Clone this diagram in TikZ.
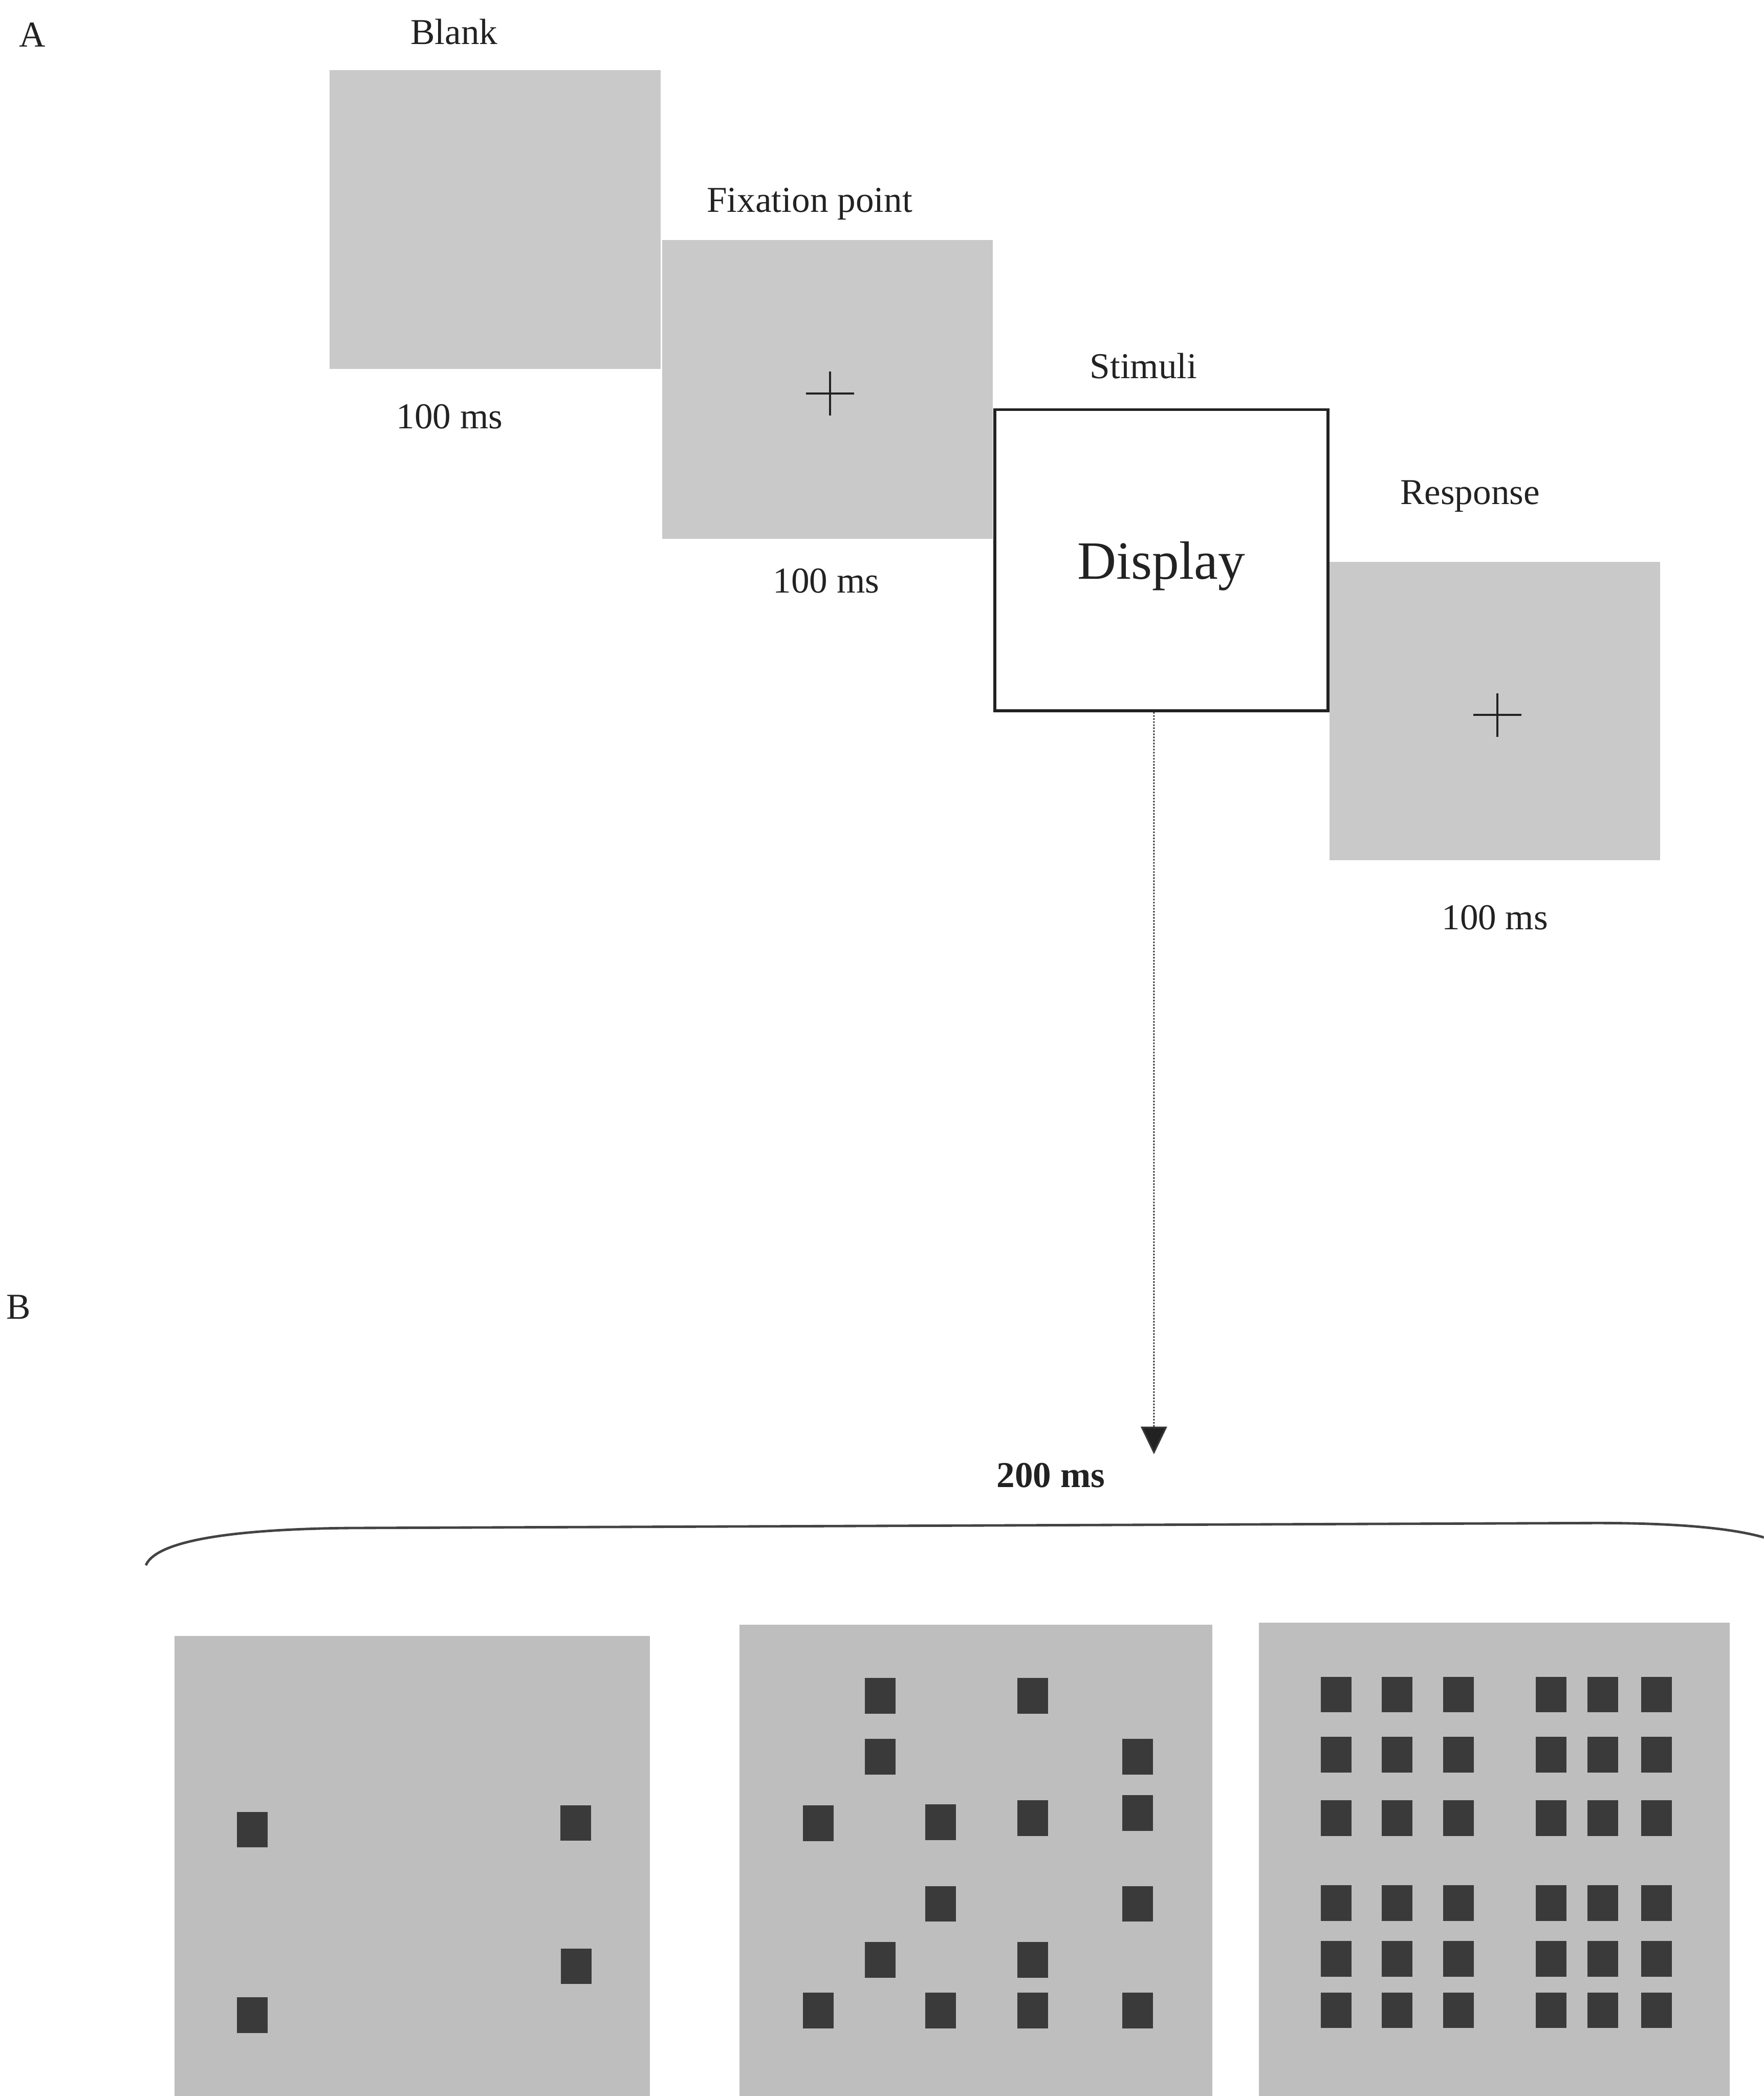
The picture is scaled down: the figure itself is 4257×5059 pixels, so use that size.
\documentclass[tikz,border=0pt]{standalone}
\usepackage{fontspec}
\setmainfont{Liberation Serif}
\usetikzlibrary{positioning,arrows.meta,calc}
\definecolor{cScr}{HTML}{C9C9C9}
\definecolor{cPan}{HTML}{BEBEBE}
\definecolor{cSq}{HTML}{3A3A3A}
\definecolor{cInk}{HTML}{222222}

\begin{document}
\begin{tikzpicture}[x=0.01cm,y=-0.01cm,>=Stealth,
  font=\fontsize{25}{30}\selectfont,text=cInk,
  screen/.style={fill=cScr,minimum width=7.98cm,minimum height=7.2cm,inner sep=0pt},
  shown/.style={draw=cInk,line width=2pt,fill=white,minimum width=8.03cm,minimum height=7.26cm,inner sep=0pt},
  panel/.style={fill=cPan,anchor=north west,minimum height=12cm,inner sep=0pt},
  sq/.style={fill=cSq,minimum width=0.74cm,minimum height=0.86cm,inner sep=0pt},
  lab/.style={anchor=base,inner sep=0pt},
  fixx/.style={draw=cInk,line width=1.4pt},
  arr/.style={draw=cInk!90,line width=1.1pt,densely dotted,-{Triangle[width=18pt,length=19pt,fill=cInk]}},
  brace/.style={draw=cInk!85,line width=1.7pt}]
\useasboundingbox (0,0) rectangle (4257,5059);
\clip (0,0) rectangle (4257,5059);
% ---------- A: trial sequence ----------
\node[lab,anchor=base west] (labA) at (45,113) {A};
\node[screen] (blank) at (1195,530) {};
\node[screen] (fix) at (1997,940) {};
\node[shown,text depth=0pt,font=\fontsize{37}{44}\selectfont] (disp) at (2803,1352) {Display};
\node[screen] (resp) at (3608,1716) {};
\foreach \s in {fix,resp}
  \draw[fixx] ($(\s.center)+(-52,10)$) -- ++(116,0) ($(\s.center)+(6,-43)$) -- ++(0,106);
\node[above=0.62cm of blank,lab,xshift=-0.99cm] (tBlank) {Blank};
\node[below=1.43cm of blank,lab,xshift=-1.1cm] (tBlankMs) {100 ms};
\node[above=0.67cm of fix,lab,xshift=-0.43cm] (tFix) {Fixation point};
\node[below=1.30cm of fix,lab,xshift=-0.03cm] (tFixMs) {100 ms};
\node[above=0.72cm of disp,lab,xshift=-0.43cm] (tStim) {Stimuli};
\node[above=1.38cm of resp,lab,xshift=-0.6cm] (tResp) {Response};
\node[below=1.67cm of resp,lab] (tRespMs) {100 ms};
\coordinate (tip) at (2785,3510);
\draw[arr] ([xshift=-0.18cm]disp.south) -- (tip);
% ---------- B: stimulus displays ----------
\node[lab,anchor=base west] (labB) at (15,3184) {B};
\node[lab,font=\fontsize{25}{30}\selectfont\bfseries] (t200) at (2536,3590) {200 ms};
\draw[brace] (352,3778) .. controls (380,3712) and (600,3690) .. (850,3688) -- (3852,3676)
  .. controls (4102,3676) and (4322,3696) .. (4350,3770);
\node[panel,minimum width=11.46cm] (pan1) at (421,3948) {};
\node[panel,minimum width=11.40cm] (pan2) at (1784,3921) {};
\node[panel,minimum width=11.35cm] (pan3) at (3038,3916) {};
\foreach \x/\y [count=\i] in {609/4416,1389/4400,1391/4746,609/4864}
  \node[sq] (a\i) at (\x,\y) {};
\foreach \x/\y [count=\i] in {2124/4093,2492/4093,2124/4240,2746/4240,
    1975/4401,2270/4398,2492/4388,2746/4376,2270/4595,2746/4595,
    2124/4730,2492/4730,1975/4853,2270/4853,2492/4853,2746/4853}
  \node[sq] (b\i) at (\x,\y) {};
\foreach \x [count=\i] in {3225,3372,3520,3743,3868,3998}
  \foreach \y [count=\j] in {4090,4235,4388,4593,4728,4852}
    \node[sq] (c\i\j) at (\x,\y) {};
\end{tikzpicture}
\end{document}
